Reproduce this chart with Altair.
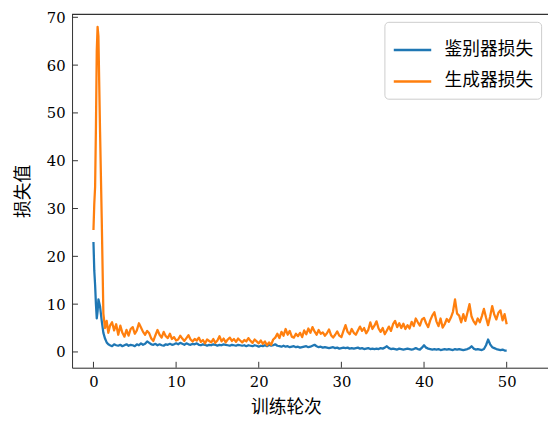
import altair as alt
import pandas as pd

# ---------------- data ----------------
early_epochs = [0, 0.1, 0.2, 0.3, 0.4, 0.5, 0.6, 0.8, 1.0, 1.2, 1.4, 1.6, 1.8, 2.0]
late_epochs = [2 + 0.25 * i for i in range(1, 193)]
epochs = early_epochs + late_epochs

d_loss_early = [23, 17, 14, 10, 7, 8.5, 11, 9.5, 6.5, 4, 2.8, 2, 1.6, 1.4]
d_loss_late = [
    1.2, 1.6, 1.4, 1.3,  1.5, 1.2, 1.4, 1.6,  1.3, 1.5, 1.4, 1.2,  1.6, 1.4, 1.8, 1.5,
    1.7, 2.2, 1.9, 1.6,  1.5, 1.7, 1.4, 1.6,  1.4, 1.3, 1.6, 1.5,  1.7, 1.5, 1.6, 1.8,
    1.6, 1.9, 1.7, 1.5,  1.8, 1.6, 1.5, 1.7,  1.6, 1.8, 1.5, 1.4,  1.6, 1.5, 1.3, 1.5,
    1.4, 1.6, 1.5, 1.3,  1.5, 1.4, 1.6, 1.5,  1.4, 1.3, 1.5, 1.4,  1.3, 1.5, 1.4, 1.3,
    1.4, 1.2, 1.4, 1.3,  1.2, 1.4, 1.3, 1.1,  1.3, 1.2, 1.4, 1.2,  1.5, 1.3, 1.4, 1.6,
    1.3, 1.2, 1.1, 1.3,  1.1, 1.2, 1.0, 1.1,  1.2, 1.0, 1.1, 0.9,  1.0, 1.1, 1.2, 1.0,
    1.1, 1.3, 1.5, 1.2,  1.0, 1.1, 0.9, 1.0,  0.9, 0.8, 0.9, 1.0,  0.8, 0.9, 0.7, 0.8,
    0.9, 0.8, 0.9, 0.7,  0.8, 0.7, 0.8, 0.9,  0.7, 0.8, 0.6, 0.7,  0.8, 0.6, 0.7, 0.6,
    0.7, 0.6, 0.8, 0.7,  0.9, 1.2, 0.8, 0.6,  0.7, 0.6, 0.5, 0.7,  0.6, 0.5, 0.6, 0.7,
    0.6, 0.5, 0.6, 0.8,  0.6, 0.5, 0.9, 1.4,  0.9, 0.7, 0.6, 0.5,  0.6, 0.5, 0.6, 0.4,
    0.5, 0.6, 0.5, 0.6,  0.5, 0.4, 0.6, 0.5,  0.6, 0.5, 0.4, 0.5,  0.6, 0.8, 1.2, 0.7,
    0.5, 0.6, 0.5, 0.4,  0.6, 1.4, 2.6, 1.6,  1.0, 0.8, 0.6, 0.5,  0.4, 0.5, 0.3, 0.3,
]

g_loss_early = [25.5, 31, 34.5, 47, 63, 68, 66, 46, 28, 8, 5, 6.5, 4, 5.5]
g_loss_late = [
    6.2, 4.5, 5.8, 3.6,  5.5, 4.0, 3.2, 4.6,  3.4, 4.8, 5.2, 3.8,  4.5, 6.0, 5.1, 4.2,
    3.6, 4.4, 3.9, 2.8,  2.3, 3.5, 4.6, 3.6,  3.0, 4.2, 3.3, 2.9,  3.8, 2.7, 3.1, 2.4,
    2.6, 3.4, 2.8, 2.3,  2.9, 3.5, 2.6, 2.2,  2.7, 2.4, 3.0, 2.1,  2.5, 1.8, 2.6, 2.3,
    2.0, 2.7, 1.9, 2.4,  3.3, 2.2, 2.8, 2.0,  2.6, 3.0, 2.3, 2.7,  2.1, 2.8, 2.4, 2.0,
    2.5, 2.2, 2.9, 2.3,  1.9, 2.6, 2.2, 1.8,  2.4, 1.7, 2.2, 1.4,  2.0, 1.5, 2.6, 3.0,
    3.8, 2.9, 4.2, 3.4,  4.8, 3.6, 4.4, 3.2,  3.0, 3.8, 3.3, 4.0,  3.1, 4.5, 3.7, 4.9,
    4.0, 5.2, 4.3, 3.6,  4.6, 3.8, 4.1, 3.4,  3.9, 4.7, 3.5, 3.0,  3.6, 4.3, 3.4, 3.1,
    4.4, 5.6, 4.2, 3.7,  4.8, 4.0, 3.6, 4.5,  5.3, 4.4, 5.0, 3.9,  4.6, 6.2, 4.8, 5.5,
    6.4, 4.9, 4.2, 5.0,  3.7, 4.5, 5.3, 4.4,  5.8, 6.5, 5.2, 6.0,  5.0, 5.9, 4.8, 5.6,
    4.9, 6.3, 5.4, 7.0,  6.2, 5.5, 6.8, 7.1,  6.0, 5.2, 6.6, 7.6,  8.3, 6.4, 5.4, 7.0,
    5.1, 5.8, 6.9, 6.3,  7.2, 8.4, 11.0, 8.0,  7.6, 6.2, 7.9, 6.5,  8.2, 10.0, 7.4, 6.4,
    5.8, 7.0, 6.2, 7.5,  9.0, 7.2, 5.6, 7.4,  9.6, 7.8, 6.8, 8.2,  8.7, 6.6, 7.9, 5.8,
]

d_loss = d_loss_early + d_loss_late
g_loss = g_loss_early + g_loss_late

series_names = ["鉴别器损失", "生成器损失"]
series_colors = ["#1f77b4", "#ff7f0e"]

x_ticks = [0, 10, 20, 30, 40, 50]
y_ticks = [0, 10, 20, 30, 40, 50, 60, 70]

x_title = "训练轮次"
y_title = "损失值"

# ---------------- build tables ----------------
rows = []
for e, v in zip(epochs, d_loss):
    rows.append({"epoch": e, "loss": v, "series": series_names[0], "order": 0})
for e, v in zip(epochs, g_loss):
    rows.append({"epoch": e, "loss": v, "series": series_names[1], "order": 1})
df = pd.DataFrame(rows)

xt = pd.DataFrame({"epoch": x_ticks})
yt = pd.DataFrame({"loss": y_ticks})

W, H = 483, 359
X_DOMAIN = [-2.59, 55.0]
Y_DOMAIN = [-3.3, 70.7]
FRAME = "#333333"
NUM_FONT = "DejaVu Serif"
CJK_FONT = "Noto Sans CJK SC"

xscale = alt.Scale(domain=X_DOMAIN, nice=False, zero=False)
yscale = alt.Scale(domain=Y_DOMAIN, nice=False, zero=False)

x_axis = alt.Axis(values=x_ticks, title=x_title, grid=False, ticks=False,
                  domainColor=FRAME, domainWidth=1, labelPadding=7,
                  labelFont=NUM_FONT, labelFontSize=15, labelColor="#000",
                  titleFont=CJK_FONT, titleFontSize=18, titleFontWeight="normal",
                  titleColor="#000", titlePadding=9, titleX=217,
                  titleAnchor="start", titleAlign="center")
y_axis = alt.Axis(values=y_ticks, title=y_title, grid=False, ticks=False,
                  domainColor=FRAME, domainWidth=1, labelPadding=7,
                  labelFont=NUM_FONT, labelFontSize=15, labelColor="#000",
                  titleFont=CJK_FONT, titleFontSize=18, titleFontWeight="normal",
                  titleColor="#000", titlePadding=14)

lines = alt.Chart(df).mark_line(strokeWidth=2.3, clip=True, strokeJoin="round").encode(
    x=alt.X("epoch:Q", scale=xscale, axis=x_axis),
    y=alt.Y("loss:Q", scale=yscale, axis=y_axis),
    color=alt.Color("series:N",
                    scale=alt.Scale(domain=series_names, range=series_colors),
                    legend=alt.Legend(title=None, orient="none", legendX=317, legendY=8,
                                      symbolType="stroke", symbolSize=1444,
                                      symbolStrokeWidth=2.5,
                                      labelFont=CJK_FONT, labelFontSize=18,
                                      labelColor="#000", labelOffset=12,
                                      strokeColor="#cccccc", fillColor="#ffffff",
                                      cornerRadius=4, padding=8, rowPadding=2)),
    detail="series:N",
    order="order:Q",
)

xticks_layer = alt.Chart(xt).mark_rule(color=FRAME, strokeWidth=1).encode(
    x=alt.X("epoch:Q", scale=xscale, axis=x_axis),
    y=alt.value(H),
    y2=alt.value(H - 6),
)

yticks_layer = alt.Chart(yt).mark_rule(color=FRAME, strokeWidth=1).encode(
    y=alt.Y("loss:Q", scale=yscale, axis=y_axis),
    x=alt.value(0),
    x2=alt.value(6),
)

top_border = alt.Chart(xt).mark_rule(color=FRAME, strokeWidth=1).encode(
    x=alt.value(0), x2=alt.value(W), y=alt.value(0.5)
)

chart = alt.layer(lines, xticks_layer, yticks_layer, top_border).properties(
    width=W, height=H,
    autosize=alt.AutoSizeParams(type="none"),
    padding={"left": 65, "top": 3, "right": 0, "bottom": 50},
).configure_view(stroke=None).configure_axis(
    labelFont=NUM_FONT
).configure(background="#ffffff")

chart.save("out.html", embed_options={"renderer": "svg", "actions": False})
